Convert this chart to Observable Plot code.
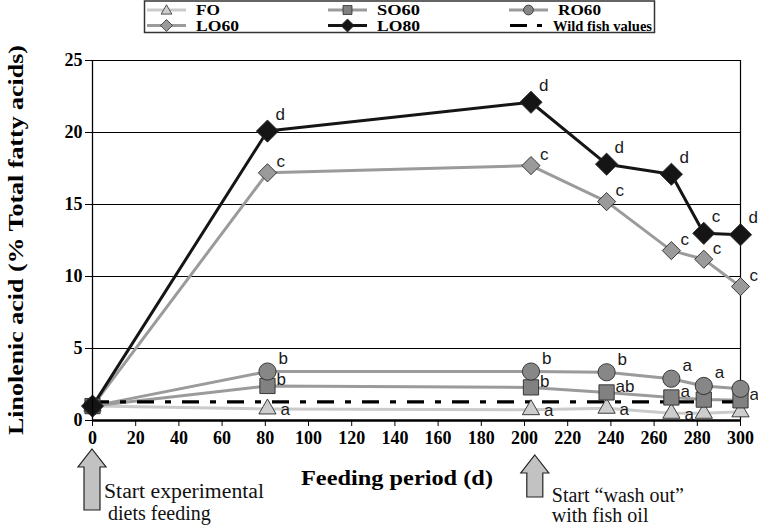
<!DOCTYPE html>
<html>
<head>
<meta charset="utf-8">
<script src="https://cdn.jsdelivr.net/npm/d3@7"></script>
<script src="https://cdn.jsdelivr.net/npm/@observablehq/plot@0.6"></script>
<style>
  html, body { margin: 0; padding: 0; background: #fff; }
  #wrap { position: relative; width: 758px; height: 526px; overflow: hidden; background: #fff; }
  #wrap svg { position: absolute; left: 0; top: 0; }
</style>
</head>
<body>
<div id="wrap"></div>
<script>
// ---------- data ----------
const days = [0, 81, 203, 238, 268, 283, 300];
const FO   = [1.0, 0.8, 0.75, 0.85, 0.5, 0.5, 0.6];
const SO60 = [1.0, 2.4, 2.3, 1.95, 1.6, 1.45, 1.4];
const RO60 = [1.0, 3.4, 3.4, 3.35, 2.9, 2.4, 2.2];
const LO60 = [1.0, 17.2, 17.7, 15.2, 11.8, 11.2, 9.3];
const LO80 = [1.0, 20.1, 22.1, 17.8, 17.1, 13.0, 12.9];
const wildFishValue = 1.3;

const FO_letters   = ["", "a", "a", "a",  "a", "",  ""];
const SO60_letters = ["", "b", "b", "ab", "a", "",  "a"];
const RO60_letters = ["", "b", "b", "b",  "a", "a", ""];
const LO60_letters = ["", "c", "c", "c",  "c", "c", "c"];
const LO80_letters = ["", "d", "d", "d",  "d", "c", "d"];

const seriesNames = ["FO", "SO60", "RO60", "LO60", "LO80"];
const legendNames = ["FO", "SO60", "RO60", "LO60", "LO80", "Wild fish values"];
const xTicks = [0, 20, 40, 60, 80, 100, 120, 140, 160, 180, 200, 220, 240, 260, 280, 300];
const yTicks = [0, 5, 10, 15, 20, 25];
const yTitle = "Linolenic acid (% Total fatty acids)";
const xTitle = "Feeding period (d)";
const noteDays = [0, 205];
const noteLines = [["Start experimental", "diets feeding"], ["Start \u201cwash out\u201d", "with fish oil"]];

// ---------- build table ----------
const valuesBy = {FO, SO60, RO60, LO60, LO80};
const lettersBy = {FO: FO_letters, SO60: SO60_letters, RO60: RO60_letters, LO60: LO60_letters, LO80: LO80_letters};
const rows = seriesNames.flatMap(s => days.map((d, i) => ({series: s, day: d, value: valuesBy[s][i], letter: lettersBy[s][i]})));

// ---------- styles ----------
const sty = {
  FO:   {line: "#cbcbcb", fill: "#cdcdcd", symbol: "triangle", r: 6.4, dx: 13, dy: 1},
  SO60: {line: "#9b9b9b", fill: "#818181", symbol: "square",   r: 8.6, dx: 9,  dy: -6},
  RO60: {line: "#9b9b9b", fill: "#878787", symbol: "circle",   r: 8.6, dx: 11, dy: -13},
  LO60: {line: "#9b9b9b", fill: "#9a9a9a", symbol: "diamond2", r: 8.2, dx: 9,  dy: -11},
  LO80: {line: "#151515", fill: "#151515", symbol: "diamond2", r: 10,  dx: 8,  dy: -17}
};
const serif = "Liberation Serif, Times New Roman, serif";
const sans = "Liberation Sans, Arial, sans-serif";

const marks = [
  Plot.gridY(yTicks.slice(1), {stroke: "#000", strokeOpacity: 1, strokeWidth: 1}),
  Plot.ruleX([xTicks[xTicks.length - 1]], {stroke: "#000", strokeWidth: 1.2}),
  Plot.axisY({ticks: yTicks, tickSize: 7, tickPadding: 3, fontSize: 18, fontWeight: "bold", fontFamily: serif, label: null, stroke: "#000"}),
  Plot.axisX({ticks: xTicks, tickSize: 6, tickPadding: 5, fontSize: 18, fontWeight: "bold", fontFamily: serif, label: null, stroke: "#000"})
];
for (const s of seriesNames) {
  marks.push(Plot.line(rows.filter(d => d.series === s), {x: "day", y: "value", stroke: sty[s].line, strokeWidth: 3}));
}
marks.push(Plot.ruleY([wildFishValue], {stroke: "#000", strokeWidth: 3.2, strokeDasharray: "17,11,6,11"}));
for (const s of seriesNames) {
  marks.push(Plot.dot(rows.filter(d => d.series === s), {x: "day", y: "value", symbol: () => sty[s].symbol, r: sty[s].r, fill: sty[s].fill, stroke: "#2a2a2a", strokeWidth: 0.9}));
}
for (const s of seriesNames) {
  marks.push(Plot.text(rows.filter(d => d.series === s && d.letter), {x: "day", y: "value", text: "letter", dx: sty[s].dx, dy: sty[s].dy, textAnchor: "start", fontSize: 17, fontFamily: sans, fill: "#1a1a1a"}));
}
marks.push(Plot.ruleX([xTicks[0]], {stroke: "#000", strokeWidth: 1.3}));
marks.push(Plot.ruleY([yTicks[0]], {stroke: "#000", strokeWidth: 2.6}));

const plot = Plot.plot({
  width: 758, height: 526,
  marginLeft: 92, marginRight: 18, marginTop: 60, marginBottom: 106,
  x: {domain: [xTicks[0], xTicks[xTicks.length - 1]]},
  y: {domain: [yTicks[0], yTicks[yTicks.length - 1]]},
  style: {fontFamily: serif, background: "#fff", color: "#000", overflow: "visible"},
  marks
});
document.getElementById("wrap").appendChild(plot);

// ---------- annotations (using Plot's scales) ----------
const svg = d3.select(plot);
const xs = plot.scale("x");
// x title
svg.append("text")
  .attr("x", 397).attr("y", 485)
  .attr("text-anchor", "middle")
  .attr("font-family", serif).attr("font-weight", "bold").attr("font-size", 22)
  .attr("textLength", 192).attr("lengthAdjust", "spacingAndGlyphs")
  .attr("fill", "#000").text(xTitle);
// y title
svg.append("text")
  .attr("transform", `translate(18,${(60 + 420) / 2}) rotate(-90)`)
  .attr("text-anchor", "middle").attr("dominant-baseline", "middle")
  .attr("font-family", serif).attr("font-weight", "bold").attr("font-size", 21)
  .attr("textLength", 390).attr("lengthAdjust", "spacingAndGlyphs")
  .attr("fill", "#000").text(yTitle);

// arrows + notes
const arrowGeom = [{top: 449, base: 467, bottom: 510}, {top: 455, base: 473, bottom: 497}];
noteDays.forEach((d, i) => {
  const cx = xs.apply(d);
  const g = arrowGeom[i];
  const hw = 14, sw = 8;
  const p = `M${cx},${g.top} L${cx + hw},${g.base} L${cx + sw},${g.base} L${cx + sw},${g.bottom} L${cx - sw},${g.bottom} L${cx - sw},${g.base} L${cx - hw},${g.base} Z`;
  svg.append("path").attr("d", p).attr("fill", "#c2c2c2").attr("stroke", "#222").attr("stroke-width", 1.2);
  const tx = i === 0 ? cx + 12 : cx + 17;
  const base = i === 0 ? [498, 520] : [502, 522];
  noteLines[i].forEach((t, j) => {
    svg.append("text").attr("x", tx + (i === 0 && j === 1 ? 4 : 0)).attr("y", base[j])
      .attr("text-anchor", "start")
      .attr("font-family", serif).attr("font-size", 20).attr("fill", "#111")
      .attr("textLength", i === 0 && j === 0 ? 160 : null)
      .attr("lengthAdjust", "spacingAndGlyphs").text(t);
  });
});

// ---------- legend ----------
const leg = d3.select("#wrap").append("svg").attr("width", 758).attr("height", 36);
leg.append("rect").attr("x", 144.5).attr("y", 1).attr("width", 510).attr("height", 31.5)
  .attr("fill", "#fff").attr("stroke", "#333").attr("stroke-width", 1.5);
const colX = [147, 328, 509], rowY = [10, 25.5];
legendNames.forEach((name, i) => {
  const sx = colX[i % 3], cy = rowY[Math.floor(i / 3)];
  const g = leg.append("g");
  if (sty[name]) {
    g.append("line").attr("x1", sx).attr("x2", sx + 39).attr("y1", cy).attr("y2", cy)
      .attr("stroke", sty[name].line).attr("stroke-width", 3);
    const symMap = {triangle: d3.symbolTriangle, square: d3.symbolSquare, circle: d3.symbolCircle, diamond2: d3.symbolDiamond2};
    const size = {triangle: 50, square: 80, circle: 75, diamond2: name === "LO80" ? 110 : 90}[sty[name].symbol];
    g.append("path").attr("d", d3.symbol(symMap[sty[name].symbol], size)())
      .attr("transform", `translate(${sx + 19.5},${cy + (sty[name].symbol === "triangle" ? 1 : 0)})`)
      .attr("fill", sty[name].fill).attr("stroke", "#2a2a2a").attr("stroke-width", 0.8);
    g.append("text").attr("x", sx + 49).attr("y", cy + 5).attr("font-family", serif)
      .attr("font-weight", "bold").attr("font-size", 15).attr("fill", "#000")
      .attr("textLength", name.length === 2 ? 24 : 43).attr("lengthAdjust", "spacingAndGlyphs").text(name);
  } else {
    g.append("line").attr("x1", sx + 1).attr("x2", sx + 33).attr("y1", cy).attr("y2", cy)
      .attr("stroke", "#000").attr("stroke-width", 3).attr("stroke-dasharray", "17,10,5,10");
    g.append("text").attr("x", sx + 44).attr("y", cy + 5).attr("font-family", serif)
      .attr("font-weight", "bold").attr("font-size", 15).attr("fill", "#000")
      .attr("textLength", 99).attr("lengthAdjust", "spacingAndGlyphs").text(name);
  }
});
</script>
</body>
</html>
